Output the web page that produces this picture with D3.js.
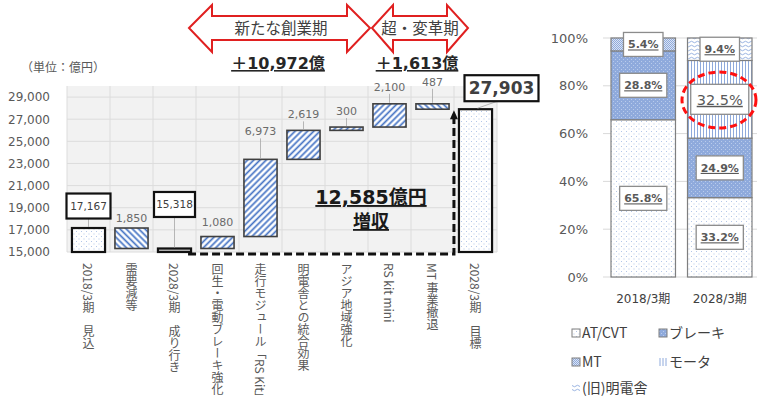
<!DOCTYPE html>
<html><head><meta charset="utf-8">
<script src="https://cdn.jsdelivr.net/npm/d3@7"></script>
<style>
body{margin:0;background:#fff}
text{font-family:"DejaVu Sans","Noto Sans CJK JP",sans-serif}
.cjk{font-family:"Noto Sans CJK JP",sans-serif}
</style>
</head><body>
<svg id="c" width="763" height="405"></svg>
<script>
// ---------- data ----------
const categories = ["2018/3期　見込","需要減等","2028/3期　成り行き","回生・電動ブレーキ強化","走行モジュール「RS Kit」","明電舎との統合効果","アジア地域強化","RS kit mini","MT 事業撤退","2028/3期　目標"];
const values = [17167, -1850, 15318, 1080, 6973, 2619, 300, 2100, -487, 27903];
const totalFlags = [true, false, true, false, false, false, false, false, false, true];
const yTicks = [15000, 17000, 19000, 21000, 23000, 25000, 27000, 29000];
const yDomain = [15000, 30000];
const unitLabel = "（単位：億円）";
const phaseLabels = ["新たな創業期", "超・変革期"];
const phaseTotals = ["＋10,972億", "＋1,613億"];
const growthLabel = ["12,585億円", "増収"];

const shareYears = ["2018/3期", "2028/3期"];
const shareKeys = ["AT/CVT", "ブレーキ", "MT", "モータ", "(旧)明電舎"];
const share2018 = [65.8, 28.8, 5.4, 0, 0];
const share2028 = [33.2, 24.9, 0, 32.5, 9.4];
const shareTicks = [0, 20, 40, 60, 80, 100];

// ---------- setup ----------
const svg = d3.select("#c");
const defs = svg.append("defs");
function linePattern(id, angle, color, w, sw) {
  const p = defs.append("pattern").attr("id", id).attr("patternUnits", "userSpaceOnUse")
    .attr("width", w).attr("height", w).attr("patternTransform", `rotate(${angle})`);
  p.append("rect").attr("width", w).attr("height", w).attr("fill", "#fff");
  p.append("line").attr("x1", w/2).attr("x2", w/2).attr("y1", 0).attr("y2", w)
    .attr("stroke", color).attr("stroke-width", sw);
}
linePattern("hatchUp", 45, "#4472c4", 4.4, 1.7);
linePattern("hatchDown", -45, "#4472c4", 4.4, 1.7);
linePattern("vlines", 0, "#8faadc", 3, 1);
function dotPattern(id, bg, dot, s) {
  const p = defs.append("pattern").attr("id", id).attr("patternUnits", "userSpaceOnUse")
    .attr("width", s).attr("height", s);
  p.append("rect").attr("width", s).attr("height", s).attr("fill", bg);
  p.append("rect").attr("x", 1).attr("y", 1).attr("width", 1).attr("height", 1).attr("fill", dot);
  p.append("rect").attr("x", 1 + s/2).attr("y", 1 + s/2).attr("width", 1).attr("height", 1).attr("fill", dot);
}
dotPattern("dotsWhite", "#ffffff", "#b4c7e7", 5);
dotPattern("dotsBlue", "#8faadc", "#b9cbeb", 4);
(function(){
  const p = defs.append("pattern").attr("id", "mesh").attr("patternUnits", "userSpaceOnUse").attr("width", 2).attr("height", 2);
  p.append("rect").attr("width", 2).attr("height", 2).attr("fill", "#dbe4f4");
  p.append("rect").attr("width", 1).attr("height", 1).attr("fill", "#8faadc");
  p.append("rect").attr("x", 1).attr("y", 1).attr("width", 1).attr("height", 1).attr("fill", "#8faadc");
  const q = defs.append("pattern").attr("id", "wave").attr("patternUnits", "userSpaceOnUse").attr("width", 6).attr("height", 4);
  q.append("rect").attr("width", 6).attr("height", 4).attr("fill", "#fff");
  q.append("path").attr("d", "M0,2 Q1.5,0.5 3,2 T6,2").attr("fill", "none").attr("stroke", "#8faadc").attr("stroke-width", 0.9);
})();

// ---------- waterfall ----------
const x = d3.scaleBand().domain(categories).range([67, 497]).paddingInner(0.23).paddingOuter(0.115);
const y = d3.scaleLinear().domain(yDomain).range([252, 86]);

svg.append("rect").attr("x", 67).attr("y", y(yDomain[1])).attr("width", 430)
  .attr("height", y(yDomain[0]) - y(yDomain[1])).attr("fill", "#f2f2f2");
svg.append("g").selectAll("line").data(yTicks).join("line")
  .attr("x1", 67).attr("x2", 497).attr("y1", d => y(d)).attr("y2", d => y(d))
  .attr("stroke", "#dcdcdc").attr("stroke-width", 1);
svg.append("g").selectAll("line").data(d3.range(categories.length + 1)).join("line")
  .attr("x1", i => 67 + x.step() * i).attr("x2", i => 67 + x.step() * i)
  .attr("y1", y(yDomain[1])).attr("y2", y(yDomain[0]))
  .attr("stroke", "#dcdcdc").attr("stroke-width", 1);

const yAxis = svg.append("g").attr("transform", "translate(67,0)")
  .call(d3.axisLeft(y).tickValues(yTicks).tickFormat(d3.format(",")).tickSize(0).tickPadding(17));
yAxis.select(".domain").remove();
yAxis.selectAll("text").attr("font-size", 12).attr("fill", "#595959")
  .style("font-family", '"DejaVu Sans",sans-serif');

// compute bars
let run = 0;
const bars = values.map((v, i) => {
  let lo, hi;
  if (totalFlags[i]) { lo = yDomain[0]; hi = v; run = v; }
  else { const nxt = run + v; lo = Math.min(run, nxt); hi = Math.max(run, nxt); run = nxt; }
  return { cat: categories[i], v, lo, hi, total: totalFlags[i], i };
});

svg.append("g").selectAll("rect").data(bars).join("rect")
  .attr("x", d => x(d.cat)).attr("width", x.bandwidth())
  .attr("y", d => y(d.hi)).attr("height", d => Math.max(1, y(d.lo) - y(d.hi)))
  .attr("fill", d => d.total ? (d.i === 2 ? "#bfbfbf" : "url(#dotsWhite)") : (d.v < 0 ? "url(#hatchDown)" : "url(#hatchUp)"))
  .attr("stroke", d => d.total ? "#111" : "#404040")
  .attr("stroke-width", d => d.total ? 2.2 : 1.6);

// plain value labels (lift above bar top in px)
const labelLift = [0, 10, 0, 15, 28, 16, 16, 17, 22, 0];
const lg = svg.append("g");
bars.filter(d => !d.total).forEach(d => {
  const cx = x(d.cat) + x.bandwidth() / 2, top = y(d.hi), ly = top - labelLift[d.i];
  lg.append("text").attr("x", cx).attr("y", ly + 4).attr("text-anchor", "middle")
    .attr("font-size", 11).attr("fill", "#6b6b6b").text(d3.format(",")(Math.abs(d.v)));
  if (labelLift[d.i] > 15) lg.append("line").attr("x1", cx).attr("x2", cx).attr("y1", ly + 7).attr("y2", top - 1)
    .attr("stroke", "#a6a6a6").attr("stroke-width", 0.8);
});
// boxed total labels
const boxSpec = { 0: { dx: 0, lift: 22, w: 44, h: 25, fs: 10.5, bold: false },
                  2: { dx: 0, lift: 44, w: 41, h: 25, fs: 10.5, bold: false },
                  9: { dx: 26, lift: 21, w: 74, h: 26, fs: 17, bold: true } };
bars.filter(d => d.total).forEach(d => {
  const s = boxSpec[d.i];
  const cx = x(d.cat) + x.bandwidth() / 2, top = y(d.hi);
  const bx = cx + s.dx, by = top - s.lift;
  lg.append("line").attr("x1", s.dx ? bx - 4 : cx).attr("y1", by + s.h / 2)
    .attr("x2", s.dx ? cx + 2 : cx).attr("y2", top - 1).attr("stroke", "#a6a6a6").attr("stroke-width", 0.8);
  lg.append("rect").attr("x", bx - s.w / 2).attr("y", by - s.h / 2).attr("width", s.w).attr("height", s.h)
    .attr("fill", "#fff").attr("stroke", "#111").attr("stroke-width", 2.2);
  lg.append("text").attr("x", bx).attr("y", by + s.fs * 0.36).attr("text-anchor", "middle")
    .attr("font-size", s.fs).attr("font-weight", s.bold ? "bold" : "normal").attr("fill", "#404040")
    .text(d3.format(",")(d.v));
});

// x labels (vertical)
svg.append("g").selectAll("text").data(categories).join("text")
  .attr("class", "cjk")
  .attr("x", d => x(d) + x.bandwidth() / 2).attr("y", 263)
  .style("writing-mode", "vertical-rl").attr("font-size", 12).attr("fill", "#595959")
  .text(d => d);

// unit label
svg.append("text").attr("class", "cjk").attr("x", 21).attr("y", 72).attr("font-size", 12)
  .attr("fill", "#595959").text(unitLabel);

// dashed L arrow
const lx0 = x(categories[2]) + x.bandwidth() - 3, lx1 = x(categories[9]) - 5;
const ly0 = y(yDomain[0]) + 2, ly1 = y(values[9]);
svg.append("path").attr("d", `M${lx0},${ly0}H${lx1}V${ly1 + 8}`).attr("fill", "none")
  .attr("stroke", "#111").attr("stroke-width", 3).attr("stroke-dasharray", "8,4");
svg.append("path").attr("d", `M${lx1},${ly1 + 1}L${lx1 - 4},${ly1 + 10}L${lx1 + 4},${ly1 + 10}Z`).attr("fill", "#111");

svg.append("text").attr("x", 371).attr("y", 204).attr("text-anchor", "middle").attr("font-size", 19)
  .attr("font-weight", "bold").attr("fill", "#1a1a1a").style("text-decoration", "underline").text(growthLabel[0]);
svg.append("text").attr("class", "cjk").attr("x", 371).attr("y", 228).attr("text-anchor", "middle").attr("font-size", 18)
  .attr("font-weight", "bold").attr("fill", "#1a1a1a").style("text-decoration", "underline").text(growthLabel[1]);

// phase arrows
function dblArrow(xl, xr, head) {
  const t = 5, b = 52, bt = 16, bb = 40, m = 28;
  return `M${xl},${m}L${xl+head},${t}L${xl+head},${bt}L${xr-head},${bt}L${xr-head},${t}L${xr},${m}L${xr-head},${b}L${xr-head},${bb}L${xl+head},${bb}L${xl+head},${b}Z`;
}
svg.append("path").attr("d", dblArrow(189, 370, 23)).attr("fill", "#fff").attr("stroke", "#e02020").attr("stroke-width", 2);
svg.append("path").attr("d", dblArrow(372, 468, 21)).attr("fill", "#fff").attr("stroke", "#e02020").attr("stroke-width", 2);
svg.append("text").attr("class", "cjk").attr("x", 281).attr("y", 34).attr("text-anchor", "middle").attr("font-size", 15.5).attr("fill", "#404040").text(phaseLabels[0]);
svg.append("text").attr("class", "cjk").attr("x", 420).attr("y", 34).attr("text-anchor", "middle").attr("font-size", 15.5).attr("fill", "#404040").text(phaseLabels[1]);
svg.append("text").attr("x", 278).attr("y", 69).attr("text-anchor", "middle").attr("font-size", 16).attr("font-weight", "bold")
  .attr("fill", "#262626").style("text-decoration", "underline").text(phaseTotals[0]);
svg.append("text").attr("x", 417).attr("y", 69).attr("text-anchor", "middle").attr("font-size", 16).attr("font-weight", "bold")
  .attr("fill", "#262626").style("text-decoration", "underline").text(phaseTotals[1]);

// ---------- share chart ----------
const xs = d3.scaleBand().domain(shareYears).range([611, 752]).paddingInner(0.157).paddingOuter(0);
const ys = d3.scaleLinear().domain([0, 100]).range([277, 38]);
svg.append("g").selectAll("line").data(shareTicks).join("line")
  .attr("x1", 603).attr("x2", 757).attr("y1", d => ys(d)).attr("y2", d => ys(d))
  .attr("stroke", "#d9d9d9");
svg.append("g").selectAll("text").data(shareTicks).join("text")
  .attr("x", 588).attr("y", d => ys(d) + 4.5).attr("text-anchor", "end").attr("font-size", 13)
  .attr("fill", "#595959").text(d => d + "%");
const rows = shareYears.map((yr, i) => {
  const src = i === 0 ? share2018 : share2028;
  const o = { year: yr };
  shareKeys.forEach((k, j) => o[k] = src[j]);
  return o;
});
const stack = d3.stack().keys(shareKeys)(rows);
const fills = { "AT/CVT": "url(#dotsWhite)", "ブレーキ": "url(#dotsBlue)", "MT": "url(#mesh)", "モータ": "url(#vlines)", "(旧)明電舎": "url(#wave)" };
const sg = svg.append("g");
stack.forEach(s => {
  s.forEach(seg => {
    const v = seg[1] - seg[0];
    if (v <= 0) return;
    sg.append("rect").attr("x", xs(seg.data.year)).attr("width", xs.bandwidth())
      .attr("y", ys(seg[1])).attr("height", ys(seg[0]) - ys(seg[1]))
      .attr("fill", fills[s.key]).attr("stroke", "#7f7f7f").attr("stroke-width", 1.2);
  });
});
stack.forEach(s => {
  s.forEach(seg => {
    const v = seg[1] - seg[0];
    if (v <= 0) return;
    const big = s.key === "モータ";
    const cx = xs(seg.data.year) + xs.bandwidth() / 2, cy = ys((seg[0] + seg[1]) / 2);
    const t = sg.append("text").attr("x", cx).attr("y", cy + (big ? 5.5 : 4)).attr("text-anchor", "middle")
      .attr("font-size", big ? 14.5 : 11).attr("font-weight", big ? "normal" : "bold").attr("fill", "#595959")
      .style("text-decoration", "underline").text(v.toFixed(1) + "%");
    const w = t.node().getComputedTextLength() + (big ? 12 : 9), h = big ? 30 : 24;
    sg.insert("rect", () => t.node()).attr("x", cx - w / 2).attr("y", cy - h / 2).attr("width", w).attr("height", h)
      .attr("fill", "#fff").attr("stroke", "#8c8c8c").attr("stroke-width", 1.3);
  });
});
svg.append("ellipse").attr("cx", 719).attr("cy", 100).attr("rx", 37).attr("ry", 28).attr("fill", "none")
  .attr("stroke", "#ff1010").attr("stroke-width", 3).attr("stroke-dasharray", "7,4");
svg.append("g").selectAll("text").data(shareYears).join("text")
  .attr("x", d => xs(d) + xs.bandwidth() / 2).attr("y", 303).attr("text-anchor", "middle")
  .attr("font-size", 12).attr("fill", "#404040").text(d => d);

// legend
const legPos = [[572, 333], [659, 333], [572, 362], [659, 362], [572, 388]];
shareKeys.forEach((k, i) => {
  const [lx, ly] = legPos[i];
  const g = svg.append("g");
  if (k === "モータ") {
    [0, 3, 6].forEach(o => g.append("line").attr("x1", lx + 1 + o).attr("x2", lx + 1 + o).attr("y1", ly - 4).attr("y2", ly + 4).attr("stroke", "#8faadc"));
  } else if (k === "(旧)明電舎") {
    g.append("rect").attr("x", lx).attr("y", ly - 4).attr("width", 8).attr("height", 8).attr("fill", "url(#wave)");
  } else {
    g.append("rect").attr("x", lx).attr("y", ly - 4).attr("width", 8).attr("height", 8)
      .attr("fill", fills[k]).attr("stroke", "#7f7f7f").attr("stroke-width", 1);
  }
  g.append("text").attr("x", lx + 10).attr("y", ly + 5).attr("font-size", 14).attr("fill", "#404040")
    .style("font-family", '"Noto Sans CJK JP",sans-serif').text(k);
});
</script>
</body></html>
